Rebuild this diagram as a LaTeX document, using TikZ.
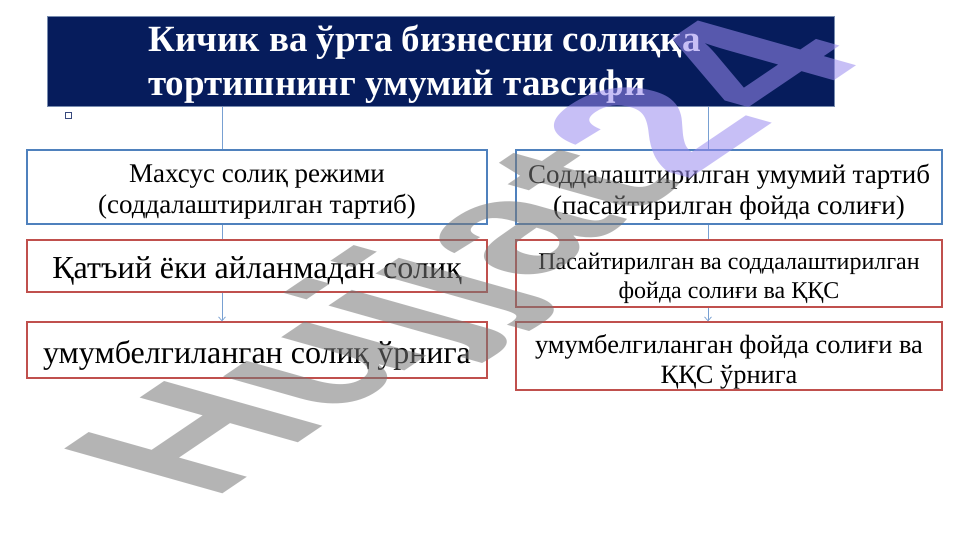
\documentclass[tikz,border=0pt]{standalone}
\usepackage{fontspec}
\setmainfont{Liberation Serif}
\newfontfamily\wmfont{Liberation Sans}
\usetikzlibrary{arrows.meta}
\definecolor{navy}{RGB}{6,28,92}
\definecolor{navyedge}{RGB}{120,140,175}
\definecolor{boxblue}{RGB}{79,129,189}
\definecolor{boxred}{RGB}{192,80,77}
\definecolor{connblue}{RGB}{120,160,210}
\definecolor{wmgray}{RGB}{120,120,120}
\definecolor{wmblue}{RGB}{120,100,235}
\begin{document}
\begin{tikzpicture}[x=1pt,y=-1pt,
  titlebox/.style={draw=navyedge,line width=1pt,fill=navy,inner sep=0pt},
  titletext/.style={text=white,font=\bfseries\fontsize{37}{44}\selectfont,align=left,inner sep=0pt},
  anybox/.style={line width=1.3pt,fill=white,inner sep=0pt},
  bluebox/.style={anybox,draw=boxblue},
  redbox/.style={anybox,draw=boxred},
  txt/.style={inner sep=0pt,align=center},
  conn/.style={draw=connblue,line width=0.7pt},
  arr/.style={conn,-{Straight Barb[length=4pt,width=7pt]}},
  fmid/.style={font=\fontsize{27}{31}\selectfont},
  fmidb/.style={font=\fontsize{26.4}{30}\selectfont},
  fbig/.style={font=\fontsize{32}{36}\selectfont},
  fsmall/.style={font=\fontsize{24}{29}\selectfont},
  wm/.style={inner sep=0pt,font=\wmfont\bfseries\fontsize{100}{100}\selectfont}
]
\useasboundingbox (0,0) rectangle (961,540);
\fill[white] (0,0) rectangle (961,540);

\coordinate (cl) at (222,0);
\coordinate (cr) at (708,0);

\node[titlebox,minimum width=787pt,minimum height=90pt] (title) at (440.5,62) {};
\node[titletext,anchor=west] (tt) at (148,64) {Кичик ва ўрта бизнесни солиққа\\тортишнинг умумий тавсифи};
\node[draw=navy!80,line width=0.9pt,minimum size=6pt,inner sep=0pt] (sq) at (68,115) {};

% left column
\node[bluebox,minimum width=460pt,minimum height=74pt] (m1) at (257,187) {};
\node[redbox,minimum width=460pt,minimum height=52pt] (m2) at (257,266) {};
\node[redbox,minimum width=460pt,minimum height=56pt] (m3) at (257,350) {};
\node[txt,fmid] (m1t) at ([yshift=-5pt]m1.center) {Махсус солиқ режими\\(соддалаштирилган тартиб)};
\node[txt,fbig] (m2t) at ([yshift=-4.5pt]m2.center) {Қатъий ёки айланмадан солиқ};
\node[txt,fbig] (m3t) at ([yshift=-5pt]m3.center) {умумбелгиланган солиқ ўрнига};

% right column
\node[bluebox,minimum width=426pt,minimum height=74pt] (r1) at (729,187) {};
\node[redbox,minimum width=426pt,minimum height=67pt] (r2) at (729,273.5) {};
\node[redbox,minimum width=426pt,minimum height=68pt] (r3) at (729,356) {};
\node[txt,fmid] (r1t) at ([yshift=-5pt]r1.center) {Соддалаштирилган умумий тартиб\\(пасайтирилган фойда солиғи)};
\node[txt,fsmall] (r2t) at ([yshift=-5pt]r2.center) {Пасайтирилган ва соддалаштирилган\\фойда солиғи ва ҚҚС};
\node[txt,fmidb] (r3t) at ([yshift=-5.5pt]r3.center) {умумбелгиланган фойда солиғи ва\\ҚҚС ўрнига};

\draw[conn] (title.south -| cl) -- (m1.north -| cl);
\draw[conn] (m1.south -| cl) -- (m2.north -| cl);
\draw[arr] (m2.south -| cl) -- (m3.north -| cl);
\draw[conn] (title.south -| cr) -- (r1.north -| cr);
\draw[conn] (r1.south -| cr) -- (r2.north -| cr);
\draw[arr] (r2.south -| cr) -- (r3.north -| cr);

\begin{scope}[shift={(211.6,501.8)}]
\node[wm,cm={1.7,1.15,-2.3,0.65,(0,0)},transform shape,anchor=base west,text opacity=0.55] (wmark) at (0,0) {\textcolor{wmgray}{Hujjat}\textcolor{wmblue!75}{24}};
\end{scope}
\end{tikzpicture}
\end{document}
